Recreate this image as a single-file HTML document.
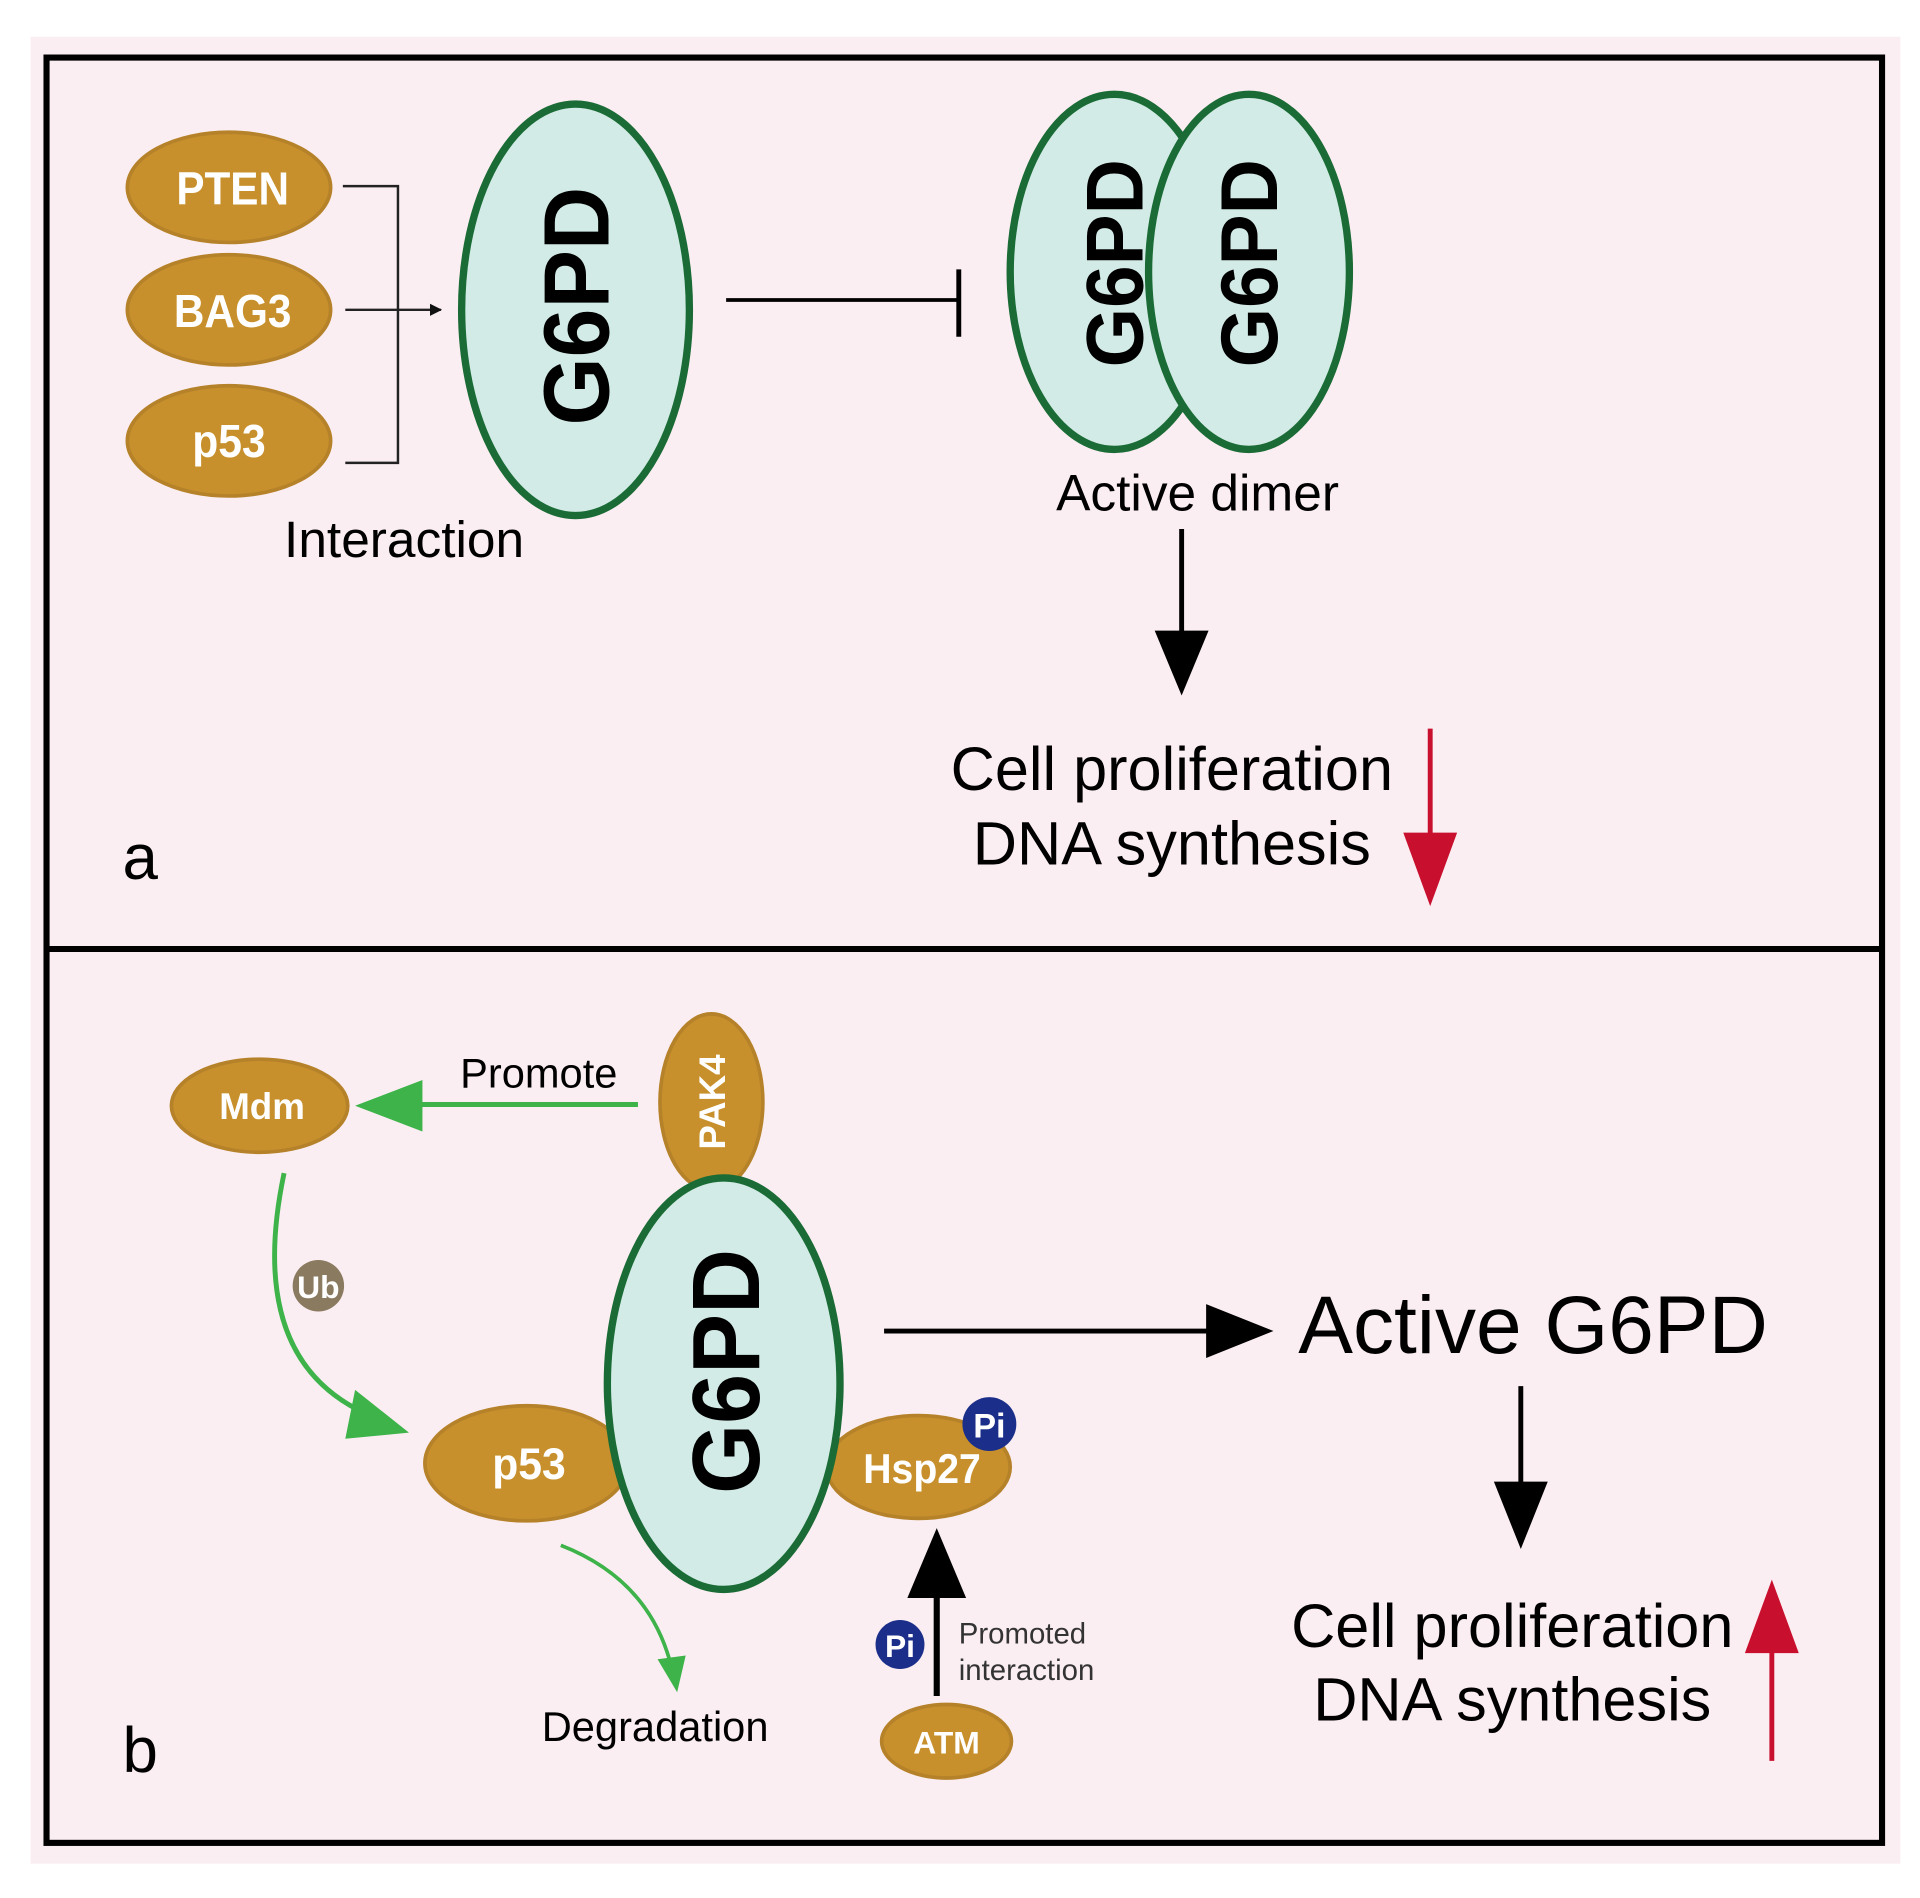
<!DOCTYPE html>
<html><head><meta charset="utf-8"><style>html,body{margin:0;padding:0;background:#fff}svg{display:block}</style></head><body>
<svg width="1920" height="1898" viewBox="0 0 1568 1550" xmlns="http://www.w3.org/2000/svg" font-family="'Liberation Sans', sans-serif">
<defs>
<marker id="ab" markerWidth="10" markerHeight="10" refX="9" refY="5" orient="auto" markerUnits="userSpaceOnUse"><path d="M0,0 L10,5 L0,10 Z" fill="#111"/></marker>
</defs>
<rect x="25" y="30" width="1527" height="1492" fill="#fbeef2"/>
<rect x="38" y="47" width="1499" height="1458" fill="#fbeef2" stroke="#000" stroke-width="5"/>
<line x1="38" y1="775" x2="1537" y2="775" stroke="#000" stroke-width="5"/>

<g fill="#c8902c" stroke="#b5822a" stroke-width="3">
<ellipse cx="187" cy="153" rx="83" ry="45"/>
<ellipse cx="187" cy="253" rx="83" ry="45"/>
<ellipse cx="187" cy="360" rx="83" ry="45"/>
<ellipse cx="212" cy="903" rx="72" ry="38"/>
<ellipse cx="581" cy="900" rx="42" ry="72"/>
<ellipse cx="430" cy="1195" rx="83" ry="47"/>
<ellipse cx="750" cy="1198" rx="75" ry="42"/>
<ellipse cx="773" cy="1422" rx="53" ry="30"/>
</g>
<g fill="#fff" font-weight="bold" text-anchor="middle">
<text x="190" y="167" font-size="38" textLength="92" lengthAdjust="spacingAndGlyphs">PTEN</text>
<text x="190" y="267" font-size="38" textLength="96" lengthAdjust="spacingAndGlyphs">BAG3</text>
<text x="187" y="373" font-size="38" textLength="60" lengthAdjust="spacingAndGlyphs">p53</text>
<text x="214" y="914" font-size="30">Mdm</text>
<text transform="translate(592,900) rotate(-90)" font-size="30">PAK4</text>
<text x="432" y="1208" font-size="36" textLength="60" lengthAdjust="spacingAndGlyphs">p53</text>
<text x="753" y="1211" font-size="34" textLength="96" lengthAdjust="spacingAndGlyphs">Hsp27</text>
<text x="773" y="1432" font-size="26">ATM</text>
</g>

<polyline points="280,152 325,152 325,378 282,378" fill="none" stroke="#222" stroke-width="2"/>
<line x1="282" y1="253" x2="360" y2="253" stroke="#222" stroke-width="2" marker-end="url(#ab)"/>

<g fill="#d2ebe6" stroke="#1a6b35" stroke-width="6">
<ellipse cx="470" cy="253" rx="93" ry="168"/>
<ellipse cx="910" cy="222" rx="85" ry="145"/>
<ellipse cx="1020" cy="222" rx="82" ry="145"/>
<ellipse cx="591" cy="1130" rx="95" ry="168"/>
</g>
<g fill="#000" font-weight="bold" text-anchor="middle">
<text transform="translate(497,250) rotate(-90)" font-size="76" textLength="195" lengthAdjust="spacingAndGlyphs">G6PD</text>
<text transform="translate(933,215) rotate(-90)" font-size="66" textLength="170" lengthAdjust="spacingAndGlyphs">G6PD</text>
<text transform="translate(1043,215) rotate(-90)" font-size="66" textLength="170" lengthAdjust="spacingAndGlyphs">G6PD</text>
<text transform="translate(620,1120) rotate(-90)" font-size="78" textLength="200" lengthAdjust="spacingAndGlyphs">G6PD</text>
</g>

<text x="330" y="455" font-size="42" text-anchor="middle">Interaction</text>
<line x1="593" y1="245" x2="783" y2="245" stroke="#000" stroke-width="3"/>
<line x1="783" y1="220" x2="783" y2="275" stroke="#000" stroke-width="4"/>
<text x="978" y="417" font-size="42" text-anchor="middle">Active dimer</text>
<line x1="965" y1="432" x2="965" y2="520" stroke="#000" stroke-width="4"/>
<path d="M943,515 L987,515 L965,568 Z" fill="#000"/>
<text x="957" y="645" font-size="50" text-anchor="middle">Cell proliferation</text>
<text x="957" y="706" font-size="50" text-anchor="middle">DNA synthesis</text>
<line x1="1168" y1="595" x2="1168" y2="690" stroke="#c8102e" stroke-width="4"/>
<path d="M1146,680 L1190,680 L1168,740 Z" fill="#c8102e"/>
<text x="100" y="718" font-size="52">a</text>

<line x1="521" y1="902" x2="330" y2="902" stroke="#3db34a" stroke-width="4"/>
<path d="M345,882 L290,903 L345,924 Z" fill="#3db34a"/>
<text x="440" y="888" font-size="34" text-anchor="middle">Promote</text>
<path d="M232,958 Q200,1110 300,1155" fill="none" stroke="#3db34a" stroke-width="4"/>
<path d="M290,1135 L334,1170 L282,1175 Z" fill="#3db34a"/>
<circle cx="260" cy="1050" r="21" fill="#8a7a60"/>
<text x="260" y="1060" font-size="26" font-weight="bold" fill="#fff" text-anchor="middle">Ub</text>
<path d="M458,1262 Q530,1290 548,1360" fill="none" stroke="#3db34a" stroke-width="3"/>
<path d="M537,1355 L553,1382 L560,1352 Z" fill="#3db34a"/>
<text x="535" y="1422" font-size="34" text-anchor="middle">Degradation</text>

<circle cx="808" cy="1163" r="22" fill="#1b2f8a"/>
<text x="808" y="1174" font-size="28" font-weight="bold" fill="#fff" text-anchor="middle">Pi</text>
<line x1="765" y1="1385" x2="765" y2="1295" stroke="#000" stroke-width="5"/>
<path d="M741,1305 L789,1305 L765,1248 Z" fill="#000"/>
<circle cx="735" cy="1343" r="20" fill="#1b2f8a"/>
<text x="735" y="1353" font-size="26" font-weight="bold" fill="#fff" text-anchor="middle">Pi</text>
<text x="783" y="1342" font-size="24" fill="#333">Promoted</text>
<text x="783" y="1372" font-size="24" fill="#333">interaction</text>

<line x1="722" y1="1087" x2="990" y2="1087" stroke="#000" stroke-width="4"/>
<path d="M985,1065 L1040,1087 L985,1109 Z" fill="#000"/>
<text x="1252" y="1105" font-size="67" text-anchor="middle">Active G6PD</text>
<line x1="1242" y1="1132" x2="1242" y2="1215" stroke="#000" stroke-width="4"/>
<path d="M1220,1210 L1264,1210 L1242,1265 Z" fill="#000"/>
<text x="1235" y="1345" font-size="50" text-anchor="middle">Cell proliferation</text>
<text x="1235" y="1405" font-size="50" text-anchor="middle">DNA synthesis</text>
<line x1="1447" y1="1438" x2="1447" y2="1340" stroke="#c8102e" stroke-width="4"/>
<path d="M1425,1350 L1469,1350 L1447,1290 Z" fill="#c8102e"/>
<text x="100" y="1447" font-size="52">b</text>
</svg>
</body></html>
